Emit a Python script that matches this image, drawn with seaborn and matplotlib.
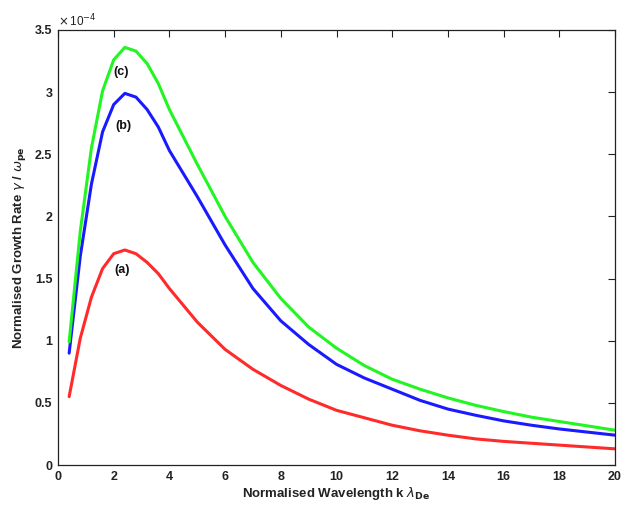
import numpy as np
import pandas as pd
import matplotlib
matplotlib.use("Agg")
import matplotlib.pyplot as plt
import seaborn as sns

# Normalised wavelength k*lambda_De
k_lambda = [0.4, 0.8, 1.2, 1.6, 2.0, 2.4, 2.8, 3.2, 3.6, 4.0, 5.0, 6.0, 7.0,
            8.0, 9.0, 10.0, 11.0, 12.0, 13.0, 14.0, 15.0, 16.0, 17.0, 18.0,
            19.0, 20.0]

# Normalised growth rate gamma/omega_pe, in units of 1e-4
growth_a = [0.55, 1.02, 1.35, 1.58, 1.70, 1.73, 1.70, 1.63, 1.54, 1.42, 1.15,
            0.93, 0.77, 0.64, 0.53, 0.44, 0.38, 0.32, 0.275, 0.24, 0.21, 0.19,
            0.175, 0.16, 0.145, 0.13]
growth_b = [0.90, 1.68, 2.26, 2.68, 2.90, 2.99, 2.96, 2.86, 2.72, 2.53, 2.16,
            1.77, 1.42, 1.16, 0.97, 0.81, 0.70, 0.61, 0.52, 0.45, 0.40, 0.355,
            0.32, 0.29, 0.265, 0.24]
growth_c = [0.99, 1.88, 2.55, 3.01, 3.26, 3.36, 3.33, 3.23, 3.07, 2.86, 2.42,
            2.00, 1.63, 1.34, 1.11, 0.94, 0.80, 0.69, 0.61, 0.54, 0.48, 0.43,
            0.385, 0.35, 0.315, 0.28]

case_names = ["(a)", "(b)", "(c)"]
case_colors = ["#ff2a2a", "#1a1aff", "#22f522"]
label_x = [2.32, 2.35, 2.28]
label_y = [1.57, 2.73, 3.16]

x_ticks = [0, 2, 4, 6, 8, 10, 12, 14, 16, 18, 20]
y_ticks = [0, 0.5, 1, 1.5, 2, 2.5, 3, 3.5]

df = pd.DataFrame({
    "k": k_lambda * 3,
    "gamma": growth_a + growth_b + growth_c,
    "case": [case_names[0]] * len(k_lambda) + [case_names[1]] * len(k_lambda)
            + [case_names[2]] * len(k_lambda),
})

sns.set_style("white")
plt.rcParams["font.family"] = ["Liberation Sans", "DejaVu Sans"]
plt.rcParams["mathtext.fontset"] = "dejavusans"

fig = plt.figure(figsize=(6.22, 5.05), dpi=100)
ax = fig.add_axes([58 / 622, 1 - 465 / 505, 557 / 622, 435 / 505])

sns.lineplot(data=df, x="k", y="gamma", hue="case", hue_order=case_names,
             palette=case_colors, linewidth=2.2, legend=False, ax=ax,
             sort=False)

for name, xx, yy in zip(case_names, label_x, label_y):
    ax.text(xx, yy, name, fontsize=9, fontweight="bold", ha="center",
            va="center", color="#111111")

ax.set_xlim(0, 20)
ax.set_ylim(0, 3.5)
ax.set_xticks(x_ticks)
ax.set_yticks(y_ticks)
ax.set_xticklabels([f"{t:g}" for t in x_ticks], fontweight="bold")
ax.set_yticklabels([f"{t:g}" for t in y_ticks], fontweight="bold")
ax.tick_params(direction="in", length=5, width=0.8, top=True, right=True,
               labelsize=9, colors="#222222", pad=4)
for side in ax.spines.values():
    side.set_linewidth(0.9)
    side.set_color("#222222")

ax.set_xlabel(r"Normalised Wavelength k $\lambda_{\mathbf{De}}$",
              fontsize=9.5, fontweight="bold", color="#222222", labelpad=2)
ax.set_ylabel(r"Normalised Growth Rate $\gamma$ / $\omega_{\mathbf{pe}}$",
              fontsize=9.5, fontweight="bold", color="#222222", labelpad=5)

fig.text(58 / 622, 1 - 26 / 505, r"$\times\,$10$^{-4}$", fontsize=8.5,
         color="#222222", ha="left", va="baseline")

fig.savefig("out.png", dpi=100, facecolor="white")
